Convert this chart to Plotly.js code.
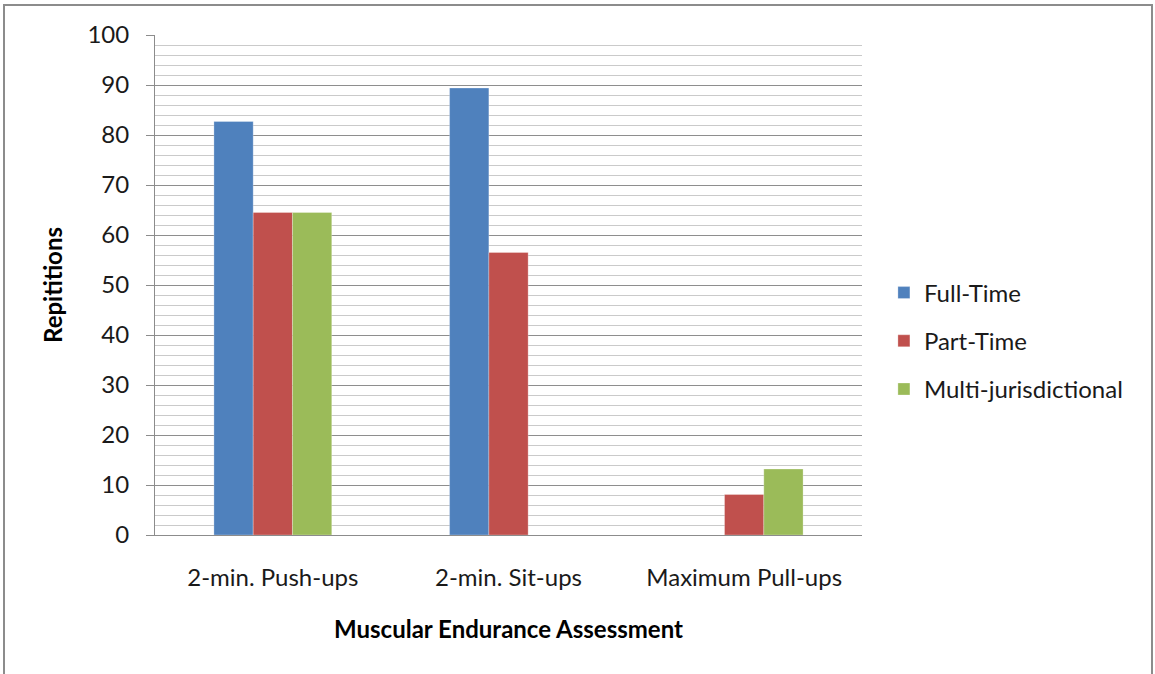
<!DOCTYPE html>
<html>
<head>
<meta charset="utf-8">
<script src="https://cdn.plot.ly/plotly-3.0.1.min.js"></script>
<style>
html,body{margin:0;padding:0;background:#fff;}
#chart{position:absolute;left:0;top:0;width:1155px;height:674px;}
#frame{position:absolute;left:3px;top:4px;width:1146px;height:680px;border:2px solid #8c8c8c;pointer-events:none;}
</style>
</head>
<body>
<div id="chart"></div>
<div id="frame"></div>
<script>
const categories = ["2-min. Push-ups", "2-min. Sit-ups", "Maximum Pull-ups"];
const fullTime = [82.7, 89.4, null];
const partTime = [64.5, 56.5, 8.1];
const multiJur = [64.5, null, 13.2];
const seriesNames = ["Full-Time", "Part-Time", "Multi-jurisdictional"];
const colors = ["#4F81BD", "#C0504D", "#9BBB59"];
const yTicks = [0, 10, 20, 30, 40, 50, 60, 70, 80, 90, 100];

const font = "Lato, 'Open Sans', sans-serif";
const fs = 24;
const vals = [fullTime, partTime, multiJur];
const traces = vals.map((v, i) => ({
  type: "bar",
  x: categories,
  y: v,
  name: seriesNames[i],
  legendgroup: "g" + i,
  marker: {color: colors[i], line: {color: "rgba(255,255,255,0.35)", width: 0.8}},
  hoverinfo: "x+y+name"
}));

const layout = {
  width: 1155, height: 674,
  margin: {l: 155, r: 293, t: 35, b: 139},
  paper_bgcolor: "#ffffff", plot_bgcolor: "#ffffff",
  barmode: "group", bargap: 0.5, bargroupgap: 0,
  font: {family: font, size: fs, color: "#000"},
  xaxis: {
    type: "category",
    showline: true, linecolor: "#8c8c8c", linewidth: 1,
    ticks: "", showgrid: false,
    ticklabelstandoff: 21,
    tickfont: {family: font, size: fs, color: "#1a1a1a"},
    title: {text: "<b>Muscular Endurance Assessment</b>", font: {family: font, size: fs, color: "#000"}, standoff: 31},
    automargin: false
  },
  yaxis: {
    range: [0, 100],
    tickvals: yTicks,
    ticktext: yTicks.map(String),
    showline: true, linecolor: "#8c8c8c", linewidth: 1,
    ticks: "outside", ticklen: 8, tickcolor: "#8c8c8c", tickwidth: 1,
    showgrid: true, gridcolor: "#8e8e8e", gridwidth: 1,
    zeroline: false,
    minor: {dtick: 2, showgrid: true, gridcolor: "#cacaca", gridwidth: 1, ticks: ""},
    ticklabelstandoff: 12,
    tickfont: {family: font, size: fs, color: "#1a1a1a"},
    title: {text: "<b>Repititions</b>", font: {family: font, size: fs, color: "#000"}, standoff: 18},
    automargin: false
  },
  legend: {
    x: 1.031, xanchor: "left", y: 0.388, yanchor: "middle",
    traceorder: "grouped", tracegroupgap: 14,
    font: {family: font, size: fs, color: "#1a1a1a"},
    bgcolor: "rgba(0,0,0,0)", itemwidth: 30
  },
  showlegend: true
};

Plotly.newPlot("chart", traces, layout, {displayModeBar: false, staticPlot: true});
</script>
</body>
</html>
